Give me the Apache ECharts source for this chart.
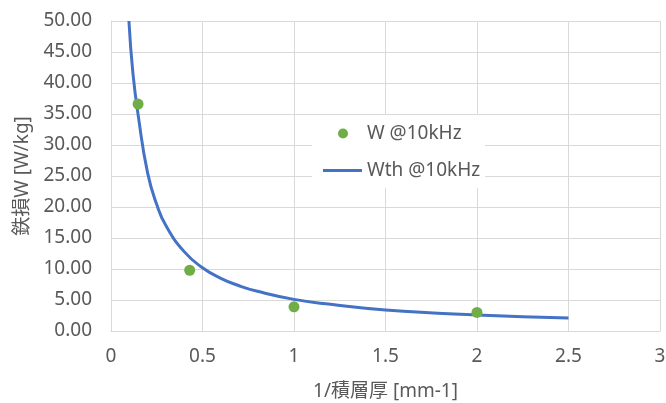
<!DOCTYPE html>
<html><head><meta charset="utf-8">
<script src="https://cdn.jsdelivr.net/npm/echarts@6/dist/echarts.min.js"></script>
<style>html,body{margin:0;padding:0;background:#fff}#c{width:666px;height:403px}</style>
</head><body><div id="c"></div>
<script>
const measX = [0.148, 0.43, 1.0, 2.0];
const measY = [36.6, 9.8, 3.9, 3.0];
const thX = [0.098, 0.12, 0.15, 0.2, 0.25, 0.3, 0.4, 0.5, 0.6, 0.7, 0.8, 1.0, 1.2, 1.5, 2.0, 2.5];
const thY = [50.0, 41.5, 34.5, 25.5, 20.4, 17.0, 12.8, 10.2, 8.5, 7.3, 6.4, 5.1, 4.3, 3.4, 2.6, 2.1];
const seriesNames = ['W @10kHz', 'Wth @10kHz'];
const xName = '1/積層厚 [mm-1]';
const yName = '鉄損W [W/kg]';

const font = '"Noto Sans", "Noto Sans CJK JP", sans-serif';
const txt = '#595959';
const chart = echarts.init(document.getElementById('c'));
chart.setOption({
  animation: false,
  backgroundColor: '#fff',
  textStyle: {fontFamily: font},
  grid: {left: 111, right: 6, top: 21, bottom: 72, outerBoundsMode: 'none', containLabel: false},
  graphic: [{type: 'rect', z: 3, shape: {x: 312, y: 115, width: 173, height: 73}, style: {fill: '#fff'}}],
  legend: [
    {orient: 'vertical', left: 338, top: 124, padding: 0,
     itemWidth: 10, itemHeight: 10, itemGap: 0,
     textStyle: {fontSize: 19, color: txt, fontFamily: font, padding: [0, 0, 0, 14]},
     data: [{name: seriesNames[0], icon: 'circle'}]},
    {orient: 'vertical', left: 323, top: 161, padding: 0,
     itemWidth: 39, itemHeight: 3, itemGap: 0,
     textStyle: {fontSize: 19, color: txt, fontFamily: font},
     data: [{name: seriesNames[1], icon: 'rect'}]}
  ],
  xAxis: {
    type: 'value', min: 0, max: 3, interval: 0.5,
    name: xName, nameLocation: 'middle', nameGap: 51,
    nameTextStyle: {fontSize: 19, color: txt},
    axisLine: {show: true, lineStyle: {color: '#d9d9d9'}},
    axisTick: {show: false},
    axisLabel: {fontSize: 19, color: txt, margin: 16},
    splitLine: {show: true, lineStyle: {color: '#d9d9d9'}}
  },
  yAxis: {
    type: 'value', min: 0, max: 50, interval: 5,
    name: yName, nameLocation: 'middle', nameGap: 77,
    nameTextStyle: {fontSize: 19, color: txt},
    axisLine: {show: true, lineStyle: {color: '#d9d9d9'}},
    axisTick: {show: false},
    axisLabel: {fontSize: 19, color: txt, margin: 19, formatter: v => v.toFixed(2)},
    splitLine: {show: true, lineStyle: {color: '#d9d9d9'}}
  },
  series: [
    {name: seriesNames[1], type: 'line', smooth: true, showSymbol: false, symbol: 'none',
     lineStyle: {color: '#4472c4', width: 3}, itemStyle: {color: '#4472c4'},
     data: thX.map((x, i) => [x, thY[i]]), z: 2},
    {name: seriesNames[0], type: 'scatter', symbolSize: 11,
     itemStyle: {color: '#70ad47', opacity: 1},
     data: measX.map((x, i) => [x, measY[i]]), z: 3}
  ]
});
</script></body></html>
